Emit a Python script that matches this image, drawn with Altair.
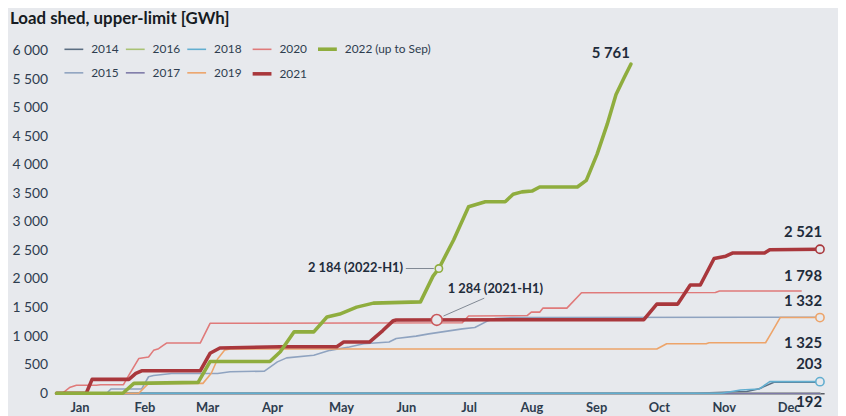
import altair as alt
import pandas as pd

# ---------------- data ----------------
series_order = ["2014", "2015", "2016", "2017", "2018", "2019", "2020", "2021", "2022 (up to Sep)"]
legend_order = ["2014", "2016", "2018", "2020", "2022 (up to Sep)", "2015", "2017", "2019", "2021"]
legend_colors = ["#5b6e82", "#a9c274", "#62aed0", "#e07a7a", "#8fad3e", "#8fa3c0", "#7e7aa8", "#eda46a", "#a9373c"]
legend_widths = [1.6, 1.6, 1.6, 1.6, 3.6, 1.6, 1.6, 1.6, 3.6]

d2014 = [0, 305, 330, 336, 343, 365]
v2014 = [0, 0, 30, 80, 192, 192]

d2015 = [0, 24, 26, 40.7, 44, 46.4, 55, 77, 83, 99.4, 105.6, 110, 123, 130.7, 140, 146.8, 159, 162.4, 171.9, 178, 194, 200, 206.4, 209.8, 218, 365]
v2015 = [0, 0, 75, 75, 289, 310, 347, 347, 376, 387, 549, 619, 665, 751, 809, 867, 896, 960, 1000, 1040, 1127, 1150, 1271, 1310, 1325, 1332]

d2016 = [0, 365]
v2016 = [0, 0]

d2017 = [0, 365]
v2017 = [0, 0]

d2018 = [0, 318, 327, 336, 341, 365]
v2018 = [0, 0, 57, 75, 203, 203]

d2019 = [0, 39.3, 44, 70, 74, 77, 80.5, 83, 287, 291.7, 310.6, 312, 339, 342, 346, 365]
v2019 = [0, 0, 173, 173, 350, 600, 760, 775, 775, 867, 867, 884, 884, 1070, 1325, 1325]

d2020 = [0, 2.8, 6.2, 9.5, 19, 21, 32, 34.6, 39.3, 44, 46.4, 48.8, 51, 52.6, 68.7, 73.4,
         194, 197, 225, 227, 231, 232.5, 244, 251, 315, 317, 356]
v2020 = [0, 0, 100, 140, 140, 150, 150, 318, 607, 636, 751, 780, 838, 879, 879, 1225,
         1235, 1352, 1360, 1420, 1420, 1490, 1490, 1760, 1763, 1790, 1790]

d2021 = [0, 14.2, 17, 34.6, 37.9, 40.7, 68.7, 73.4, 78.1, 107, 134, 137.3, 149.6, 156, 161, 162.4,
         280.8, 287, 297, 303, 307.8, 314.4, 320, 323.4, 338.5, 341, 365]
v2021 = [0, 0, 243, 243, 347, 393, 393, 700, 792, 815, 815, 896, 896, 1098, 1271, 1284,
         1288, 1561, 1561, 1895, 1895, 2360, 2400, 2457, 2457, 2514, 2521]

d2022 = [0, 31.7, 37, 67.7, 73.4, 102, 107, 113.6, 123, 129.3, 135.4, 143.5, 151.5, 174, 180, 182.8,
         189.9, 197, 205, 214.5, 218.3, 222.5, 227.3, 231, 249, 253.3, 258.5, 263.3, 267.5, 271.3, 274.6]
v2022 = [0, 0, 173, 190, 555, 555, 728, 1075, 1075, 1335, 1387, 1508, 1578, 1600, 2051, 2184,
         2688, 3265, 3352, 3352, 3485, 3526, 3540, 3612, 3612, 3728, 4191, 4711, 5231, 5519, 5761]

series_days = [d2014, d2015, d2016, d2017, d2018, d2019, d2020, d2021, d2022]
series_vals = [v2014, v2015, v2016, v2017, v2018, v2019, v2020, v2021, v2022]

month_names = ["Jan", "Feb", "Mar", "Apr", "May", "Jun", "Jul", "Aug", "Sep", "Oct", "Nov", "Dec"]
month_pos = [11, 42, 72, 103, 136, 167, 197, 227, 258, 288, 319, 350]
y_ticks = list(range(0, 6001, 500))

# end-of-line value labels
end_text = ["5 761", "2 521", "1 798", "1 332", "1 325", "203", "192"]
end_day = [265, 366, 366, 366, 366, 366, 366]
end_val = [5960, 2826, 2046, 1620, 880, 520, -150]
end_align = ["center", "right", "right", "right", "right", "right", "right"]

# markers
mark_day = [365, 365, 365, 181.8, 182.8]
mark_val = [2521, 1325, 203, 1284, 2184]
mark_color = ["#a9373c", "#eda46a", "#62aed0", "#c9575a", "#8fad3e"]
mark_size = [70, 70, 70, 120, 55]

# H1 annotations
ann_text = ["2 184 (2022-H1)", "1 284 (2021-H1)"]
ann_day = [165.7, 209.8]
ann_val = [2184, 1820]
ann_align = ["right", "center"]
lead_x1 = [167, 185]
lead_x2 = [180.4, 204.5]
lead_y1 = [2184, 1352]
lead_y2 = [2184, 1665]

# ---------------- frames ----------------
rows = []
for name, ds, vs in zip(series_order, series_days, series_vals):
    for i, (d, v) in enumerate(zip(ds, vs)):
        rows.append({"series": name, "day": d, "value": v, "idx": i})
df = pd.DataFrame(rows)

end_df = pd.DataFrame({"text": end_text, "day": end_day, "value": end_val, "align": end_align})
mark_df = pd.DataFrame({"day": mark_day, "value": mark_val, "color": mark_color, "size": mark_size})
ann_df = pd.DataFrame({"text": ann_text, "day": ann_day, "value": ann_val, "align": ann_align})
lead_df = pd.DataFrame({"x1": lead_x1, "x2": lead_x2, "y1": lead_y1, "y2": lead_y2})

BG = "#e7e9ed"
DARK = "#1f2c3b"
AXC = "#2e3d4f"
FONT = "Lato"

label_expr = "[" + ",".join(f"'{m}'" for m in month_names) + "][indexof([" + ",".join(str(p) for p in month_pos) + "], datum.value)]"

XSCALE = alt.Scale(domain=[0, 367], nice=False, zero=False)
YSCALE = alt.Scale(domain=[0, 6000], nice=False)
XAXIS = alt.Axis(values=month_pos, labelExpr=label_expr, grid=False, ticks=False,
                 domain=True, domainColor="#5a5f66", domainWidth=1.5,
                 labelFont=FONT, labelFontSize=13, labelFontWeight="bold", labelOverlap=False,
                 labelColor=AXC, labelPadding=8, title=None)
YAXIS = alt.Axis(values=y_ticks, labelExpr="replace(format(datum.value, ','), ',', ' ')",
                 grid=False, ticks=False, domain=False, labelFont=FONT, labelFontSize=14,
                 labelOverlap=False, labelColor=AXC, labelPadding=9, title=None)


def xe(field):
    return alt.X(field, scale=XSCALE, axis=XAXIS)


def ye(field):
    return alt.Y(field, scale=YSCALE, axis=YAXIS)


legend_kw = dict(title=None, orient="none", legendX=6, legendY=-13, columns=5,
                 direction="horizontal", symbolType="stroke", symbolSize=361, symbolStrokeWidth=2,
                 labelFont=FONT, labelFontSize=12, labelColor=AXC, gridAlign="each",
                 labelOffset=6, rowPadding=6, columnPadding=3, padding=0)

lines = alt.Chart(df).mark_line(strokeJoin="round", strokeCap="round").encode(
    x=xe("day:Q"),
    y=ye("value:Q"),
    color=alt.Color("series:N", scale=alt.Scale(domain=legend_order, range=legend_colors),
                    legend=alt.Legend(**legend_kw)),
    strokeWidth=alt.StrokeWidth("series:N", scale=alt.Scale(type="ordinal", domain=legend_order, range=legend_widths),
                                legend=None),
    order=alt.Order("idx:Q"),
)

leads = alt.Chart(lead_df).mark_rule(color="#7f8893", strokeWidth=1).encode(
    x=xe("x1:Q"), x2="x2:Q",
    y=ye("y1:Q"), y2="y2:Q",
)

marks = alt.Chart(mark_df).mark_point(filled=False, fill=BG, fillOpacity=1, strokeWidth=1.6, opacity=1).encode(
    x=xe("day:Q"), y=ye("value:Q"),
    stroke=alt.Stroke("color:N", scale=None),
    size=alt.Size("size:Q", scale=None),
)


def text_layer(frame, align, size):
    return alt.Chart(frame).transform_filter(alt.datum.align == align).mark_text(
        font=FONT, fontSize=size, fontWeight="bold", color=DARK, baseline="middle", align=align
    ).encode(
        x=xe("day:Q"), y=ye("value:Q"), text="text:N",
    )


end_c = text_layer(end_df, "center", 15)
end_r = text_layer(end_df, "right", 15)
ann_c = text_layer(ann_df, "center", 13)
ann_r = text_layer(ann_df, "right", 13)

chart = alt.layer(lines, leads, marks, end_c, end_r, ann_c, ann_r).properties(
    width=775, height=346,
    title=alt.TitleParams("Load shed, upper-limit [GWh]", anchor="start", frame="group",
                          font=FONT, fontSize=17, fontWeight="bold", color="#161b22", dx=-47, offset=10),
    autosize=alt.AutoSizeParams(type="none"),
    padding={"left": 49, "top": 41, "right": 14, "bottom": 21},
).configure(background=BG).configure_view(stroke=None)

chart.save("out.html", embed_options={"renderer": "svg", "actions": False})
